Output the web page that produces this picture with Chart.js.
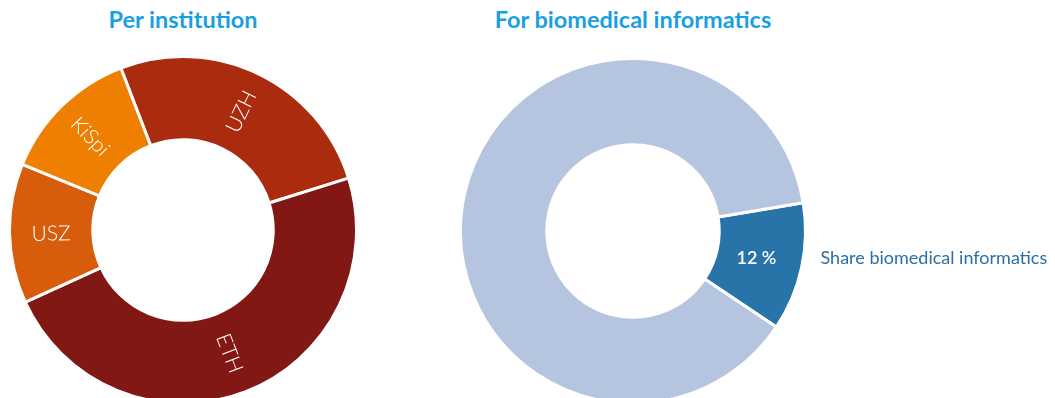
<!DOCTYPE html>
<html>
<head>
<meta charset="utf-8">
<script src="https://cdn.jsdelivr.net/npm/chart.js@4/dist/chart.umd.min.js"></script>
<style>
  html, body { margin: 0; padding: 0; width: 1055px; height: 398px; overflow: hidden; background: #fff; }
  .title { position: absolute; top: 5px; text-align: center; font-family: Lato, sans-serif;
           font-weight: 700; font-size: 23.5px; color: #1a9fe0; }
  canvas { position: absolute; }
</style>
</head>
<body>
<div class="title" style="left:0; width:366px;">Per institution</div>
<div class="title" style="left:433px; width:400px;">For biomedical informatics</div>
<canvas id="instChart" width="350" height="350" style="left:8px; top:55px;"></canvas>
<canvas id="bmiChart" width="596" height="348" style="left:459px; top:57px;"></canvas>
<script>
const instLabels = ["UZH", "ETH", "USZ", "KiSpi"];
const instValues = [26, 48, 13, 13];
const instColors = ["#ab2b0e", "#821813", "#d75c0b", "#ef7f00"];

const bmiLabels = ["Share biomedical informatics", "Other"];
const bmiValues = [12, 88];
const bmiColors = ["#2873a8", "#b5c5e0"];

// labels along the radius, flipped so they stay readable
const radialLabels = {
  id: "radialLabels",
  afterDatasetsDraw(chart) {
    const ctx = chart.ctx;
    const meta = chart.getDatasetMeta(0);
    ctx.save();
    ctx.fillStyle = "#fff";
    ctx.font = "300 21px Lato, sans-serif";
    ctx.textAlign = "center";
    ctx.textBaseline = "middle";
    meta.data.forEach((arc, i) => {
      const p = arc.getProps(["x", "y", "startAngle", "endAngle", "innerRadius", "outerRadius"]);
      const mid = (p.startAngle + p.endAngle) / 2;
      const r = (p.innerRadius + p.outerRadius) / 2;
      let a = Math.atan2(Math.sin(mid), Math.cos(mid));
      if (a > Math.PI / 2) a -= Math.PI;
      if (a < -Math.PI / 2) a += Math.PI;
      ctx.save();
      ctx.translate(p.x + r * Math.cos(mid), p.y + r * Math.sin(mid));
      ctx.rotate(a);
      ctx.fillText(chart.data.labels[i], 0, 1);
      ctx.restore();
    });
    ctx.restore();
  }
};

const shareLabel = {
  id: "shareLabel",
  afterDatasetsDraw(chart) {
    const ctx = chart.ctx;
    const arc = chart.getDatasetMeta(0).data[0];
    const p = arc.getProps(["x", "y", "startAngle", "endAngle", "innerRadius", "outerRadius"]);
    const mid = (p.startAngle + p.endAngle) / 2;
    const r = (p.innerRadius + p.outerRadius) / 2;
    const y = p.y + r * Math.sin(mid);
    ctx.save();
    ctx.textBaseline = "middle";
    ctx.fillStyle = "#fff";
    ctx.font = "600 18px Lato, sans-serif";
    ctx.textAlign = "center";
    ctx.fillText(bmiValues[0] + " %", p.x + r * Math.cos(mid) - 3, y);
    ctx.fillStyle = "#2a6fa6";
    ctx.font = "400 18px Lato, sans-serif";
    ctx.textAlign = "left";
    ctx.fillText(chart.data.labels[0], p.x + p.outerRadius + 15, y);
    ctx.restore();
  }
};

function DoughnutChart(canvasId, labels, values, colors, rotation, cutout, padRight, plugin) {
  const config = {
    type: "doughnut",
    data: {
      labels: labels,
      datasets: [
        {
          data: values,
          backgroundColor: colors,
          borderColor: "#ffffff",
          borderWidth: 3,
        },
      ],
    },
    options: {
      responsive: false,
      animation: false,
      rotation: rotation,
      cutout: cutout,
      layout: { padding: { right: padRight } },
      plugins: {
        legend: { display: false },
        tooltip: { enabled: false },
        title: { display: false },
      },
    },
    plugins: [plugin],
  };
  const ctx = document.getElementById(canvasId).getContext("2d");
  return new Chart(ctx, config);
}

DoughnutChart("instChart", instLabels, instValues, instColors, -21, "52%", 0, radialLabels);
DoughnutChart("bmiChart", bmiLabels, bmiValues, bmiColors, 80.6, "50%", 248, shareLabel);
</script>
</body>
</html>
